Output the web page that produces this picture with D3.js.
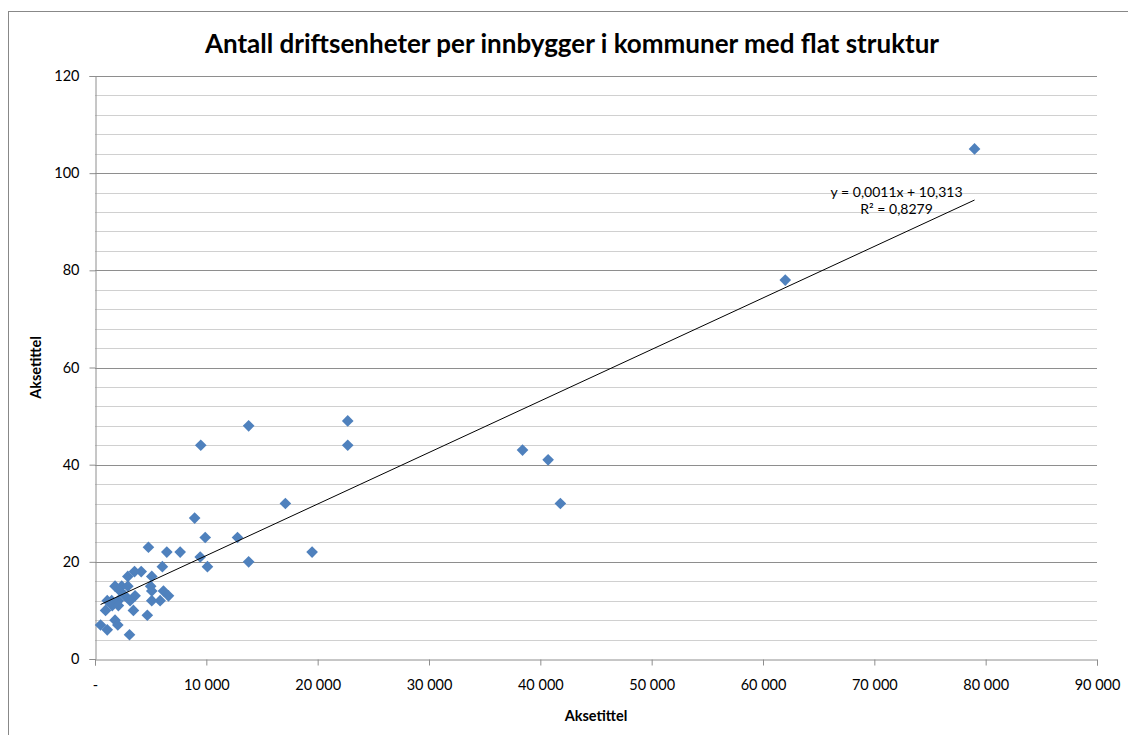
<!DOCTYPE html>
<html>
<head>
<meta charset="utf-8">
<script src="https://cdn.jsdelivr.net/npm/d3@7"></script>
<style>
  body { margin: 0; background: #fff; }
  text { font-family: Lato, "Open Sans", sans-serif; fill: #000; }
</style>
</head>
<body>
<script>
// innbyggere (x) og antall driftsenheter (y), lest av figuren
var innbyggere = [79000, 62000, 22700, 22700, 13800, 9500, 38400, 40700, 41800, 17100,
    8950, 9900, 12800, 4800, 6450, 7650, 19500, 9450, 13800, 10100,
    6050, 4150, 3550, 2950, 5100, 1800, 2400, 2950, 5000, 2250,
    5100, 6150, 2700, 3600, 6600, 1500, 1100, 2100, 3150, 5100,
    5850, 1550, 2100, 950, 3450, 4700, 500, 1100, 1800, 2050, 3100];
var driftsenheter = [105, 78, 49, 44, 48, 44, 43, 41, 32, 32,
    29, 25, 25, 23, 22, 22, 22, 21, 20, 19,
    19, 18, 18, 17, 17, 15, 15, 15, 15, 14,
    14, 14, 13, 13, 13, 12, 12, 12, 12, 12,
    12, 11, 11, 10, 10, 9, 7, 6, 8, 7, 5];

var xTicks = [0, 10000, 20000, 30000, 40000, 50000, 60000, 70000, 80000, 90000];
var yTicks = [0, 20, 40, 60, 80, 100, 120];
var yMinor = d3.range(0, 121, 4);

var title = 'Antall driftsenheter per innbygger i kommuner med flat struktur';
var xTitle = 'Aksetittel', yTitle = 'Aksetittel';
var eqLabel = 'y = 0,0011x + 10,313', r2Label = 'R\u00b2 = 0,8279';

var margin = { top: 76, left: 95, right: 31, bottom: 76 },
    width = 1128 - margin.left - margin.right,
    height = 735 - margin.top - margin.bottom;

var svg = d3.select('body').append('svg')
    .attr('width', 1128)
    .attr('height', 735);

// ramme rundt hele diagrammet
svg.append('rect')
    .attr('x', 8.5).attr('y', 11.5)
    .attr('width', 1130).attr('height', 740)
    .attr('fill', 'none')
    .attr('stroke', '#888');

var g = svg.append('g')
    .attr('transform', 'translate(' + margin.left + ',' + margin.top + ')');

var x = d3.scaleLinear().domain([0, 90000]).range([0, width]);
var y = d3.scaleLinear().domain([0, 120]).range([height, 0]);

// hjelpelinjer
g.append('g').selectAll('line')
    .data(yMinor.filter(function(d) { return d % 20 !== 0; }))
    .enter().append('line')
    .attr('x1', 0).attr('x2', width)
    .attr('y1', function(d) { return Math.round(y(d)) + 0.5; })
    .attr('y2', function(d) { return Math.round(y(d)) + 0.5; })
    .attr('stroke', '#d0d0d0');

g.append('g').selectAll('line')
    .data(yTicks.filter(function(d) { return d > 0; }))
    .enter().append('line')
    .attr('x1', 0).attr('x2', width)
    .attr('y1', function(d) { return Math.round(y(d)) + 0.5; })
    .attr('y2', function(d) { return Math.round(y(d)) + 0.5; })
    .attr('stroke', '#8e8e8e');

var fmt = function(d) { return d === 0 ? '-' : d3.format(',')(d).replace(/,/g, ' '); };

var xAxis = g.append('g')
    .attr('transform', 'translate(0,' + (Math.round(height) + 0.5) + ')')
    .call(d3.axisBottom(x).tickValues(xTicks).tickSize(6).tickPadding(14).tickFormat(fmt));

var yAxis = g.append('g')
    .attr('transform', 'translate(0.5,0)')
    .call(d3.axisLeft(y).tickValues(yTicks).tickSize(6).tickPadding(10));

[xAxis, yAxis].forEach(function(a) {
    a.select('.domain').attr('stroke', '#8e8e8e');
    a.selectAll('.tick line').attr('stroke', '#8e8e8e');
    a.selectAll('.tick text').style('font-size', '14.5px').attr('fill', '#000');
});

// lineær trendlinje (minste kvadraters metode)
var n = innbyggere.length;
var mx = d3.mean(innbyggere), my = d3.mean(driftsenheter);
var sxy = 0, sxx = 0;
for (var i = 0; i < n; i++) {
    sxy += (innbyggere[i] - mx) * (driftsenheter[i] - my);
    sxx += (innbyggere[i] - mx) * (innbyggere[i] - mx);
}
var slope = sxy / sxx, intercept = my - slope * mx;
var xExt = d3.extent(innbyggere);

var points = innbyggere.map(function(d, i) { return { x: d, y: driftsenheter[i] }; });

g.append('g').selectAll('path')
    .data(points)
    .enter().append('path')
    .attr('d', d3.symbol(d3.symbolSquare, 68))
    .attr('transform', function(d) { return 'translate(' + x(d.x) + ',' + y(d.y) + ') rotate(45)'; })
    .attr('fill', '#4f81bd');

g.append('line')
    .attr('x1', x(xExt[0])).attr('y1', y(slope * xExt[0] + intercept))
    .attr('x2', x(xExt[1])).attr('y2', y(slope * xExt[1] + intercept))
    .attr('stroke', '#000')
    .attr('stroke-width', 1);

g.append('text')
    .attr('x', x(72000)).attr('y', y(95.1))
    .attr('text-anchor', 'middle')
    .style('font-size', '14px')
    .text(eqLabel);
g.append('text')
    .attr('x', x(72000)).attr('y', y(91.6))
    .attr('text-anchor', 'middle')
    .style('font-size', '14px')
    .text(r2Label);

svg.append('text')
    .attr('x', 572).attr('y', 53)
    .attr('text-anchor', 'middle')
    .style('font-size', '26px')
    .style('font-weight', 'bold')
    .text(title);

svg.append('text')
    .attr('x', margin.left + width / 2).attr('y', 721)
    .attr('text-anchor', 'middle')
    .style('font-size', '14.5px')
    .style('font-weight', 'bold')
    .text(xTitle);

svg.append('text')
    .attr('transform', 'translate(41,' + (margin.top + height / 2) + ') rotate(-90)')
    .attr('text-anchor', 'middle')
    .style('font-size', '14.5px')
    .style('font-weight', 'bold')
    .text(yTitle);
</script>
</body>
</html>
